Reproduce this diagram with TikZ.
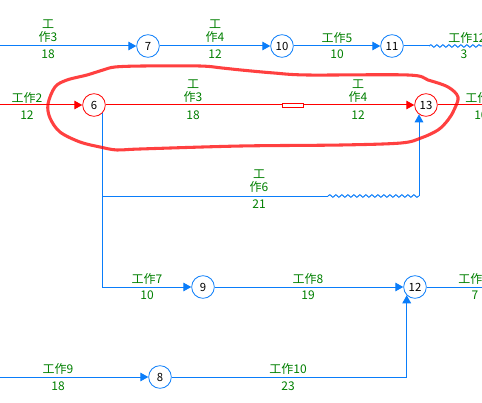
\documentclass[tikz,border=0pt]{standalone}
\usepackage{fontspec}
\newfontfamily\cjk{Noto Sans CJK SC}
\usetikzlibrary{arrows.meta,decorations.pathmorphing}
\definecolor{lblue}{RGB}{10,125,250}
\definecolor{lgreen}{RGB}{0,128,0}
\definecolor{lred}{RGB}{255,0,0}
\begin{document}
\begin{tikzpicture}[x=0.75pt,y=-0.75pt,
 nd/.style={circle,draw=lblue,line width=0.6pt,minimum size=17pt,inner sep=0pt,fill=white,font=\cjk\fontsize{8.5}{10}\selectfont},
 rnd/.style={nd,draw=lred},
 lab/.style={text=lgreen,font=\cjk\fontsize{9}{9.75}\selectfont,inner sep=0pt,align=center},
 bl/.style={draw=lblue,line width=0.75pt},
 rl/.style={draw=lred,line width=0.75pt},
 arr/.style={-{Triangle[length=6pt,width=6.5pt]}},
 wavy/.style={decorate,decoration={snake,segment length=4.5pt,amplitude=1pt}}]
\useasboundingbox (0,0) rectangle (482,403);
\clip (0,0) rectangle (482,403);
\fill[white] (0,0) rectangle (482,403);

% nodes
\node[nd] (n7) at (148,46) {7};
\node[nd] (n10) at (282,46) {10};
\node[nd] (n11) at (392,46) {11};
\node[rnd] (n6) at (94,105) {6};
\node[rnd] (n13) at (426,105) {13};
\node[nd] (n9) at (203,287) {9};
\node[nd] (n12) at (415,287) {12};
\node[nd] (n8) at (160,377) {8};

% free ends
\coordinate (l1) at (0,46);
\coordinate (w1) at (429,46);
\coordinate (r1) at (482,46);
\coordinate (l2) at (0,105);
\coordinate (r2) at (482,105);
\coordinate (c6a) at (102,196);
\coordinate (ws) at (328,196);
\coordinate (we) at (419,196);
\coordinate (r5) at (482,287);
\coordinate (l7) at (0,377);

% row 1
\draw[bl,arr] (l1) -- (n7);
\draw[bl,arr] (n7) -- (n10);
\draw[bl,arr] (n10) -- (n11);
\draw[bl] (n11) -- (w1);
\draw[bl,wavy] (w1) -- (r1);

% row 2 (red)
\draw[rl,arr] (l2) -- (n6);
\draw[rl,arr] (n6) -- (n13);
\draw[rl] (n13) -- (r2);
\node[draw=lred,fill=white,line width=0.75pt,minimum width=16pt,minimum height=3pt,inner sep=0pt] (bx) at (293,106) {};

% branch from 6
\draw[bl,arr] (n6.-45) |- (n9);
\draw[bl] (c6a) -- (ws);
\draw[bl,wavy] (ws) -- (we);
\draw[bl,arr] (we) -- (we |- n13.-127);

% row 5
\draw[bl,arr] (n9) -- (n12);
\draw[bl] (n12) -- (r5);

% row 7
\draw[bl,arr] (l7) -- (n8);
\draw[bl,arr] (n8) -| (n12.-135);

% labels row 1
\node[lab] (t3a) at (48,31.5) {工\\作3};
\node[lab] (d3a) at (48,54) {18};
\node[lab] (t4a) at (215,31.5) {工\\作4};
\node[lab] (d4a) at (215,54) {12};
\node[lab] (t5) at (337,38) {工作5};
\node[lab] (d5) at (337,54) {10};
\node[lab,anchor=west] (t12) at (448,38) {工作12};
\node[lab] (d12) at (464,54) {3};

% labels row 2
\node[lab] (t2) at (27,98) {工作2};
\node[lab] (d2) at (27,115) {12};
\node[lab] (t3b) at (193,91.5) {工\\作3};
\node[lab] (d3b) at (193,115) {18};
\node[lab] (t4b) at (358,91.5) {工\\作4};
\node[lab] (d4b) at (358,115) {12};
\node[lab,anchor=west] (tx) at (465,98) {工作};
\node[lab,anchor=west] (dx) at (474,115) {10};

% labels row 196
\node[lab] (t6) at (259,181.5) {工\\作6};
\node[lab] (d6) at (259,204) {21};

% labels row 287
\node[lab] (t7) at (147,279) {工作7};
\node[lab] (d7) at (147,295) {10};
\node[lab] (t8) at (308,279) {工作8};
\node[lab] (d8) at (308,295) {19};
\node[lab,anchor=west] (ty) at (458,279) {工作};
\node[lab] (dy) at (475,295) {7};

% labels row 377
\node[lab] (t9) at (58,369) {工作9};
\node[lab] (d9) at (58,386) {18};
\node[lab] (t10) at (288,369) {工作10};
\node[lab] (d10) at (288,386) {23};

% hand-drawn highlight
\draw[lred,line width=2.3pt,opacity=0.75,line join=round]
 plot[smooth cycle,tension=0.55] coordinates {
 (48,104) (55,87) (67,80) (87,75) (103,70) (115,67) (143,66) (200,66) (222,68) (241,70)
 (274,73) (308,75) (408,75) (428,80) (448,87) (458,97) (454,110) (448,120) (438,130)
 (421,138) (401,143) (341,145) (241,146) (140,149) (117,150) (100,147) (80,142) (60,132) (50,118)};
\end{tikzpicture}
\end{document}
